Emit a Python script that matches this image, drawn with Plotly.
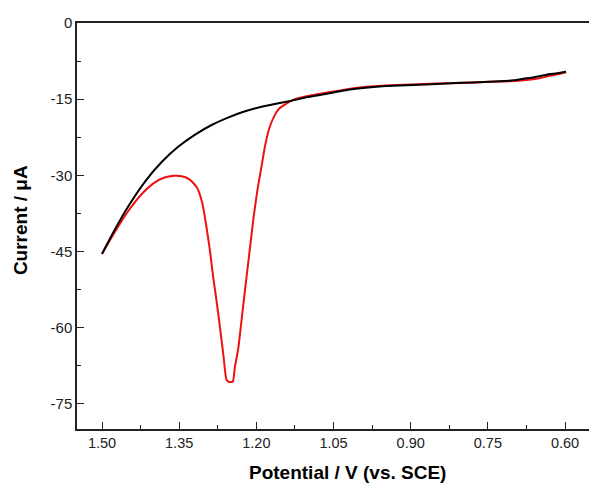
import plotly.graph_objects as go

# Black curve (background)
black_x = [1.500, 1.475, 1.450, 1.416, 1.384, 1.352, 1.319, 1.287, 1.254, 1.222,
           1.190, 1.157, 1.131, 1.100, 1.050, 1.018, 0.960, 0.921, 0.870, 0.830,
           0.780, 0.730, 0.700, 0.681, 0.660, 0.636, 0.615, 0.598]
black_y = [-45.5, -40.7, -36.3, -31.2, -27.4, -24.4, -22.0, -20.1, -18.6, -17.4,
           -16.5, -15.8, -15.3, -14.6, -13.7, -13.1, -12.5, -12.3, -12.1, -11.9,
           -11.7, -11.5, -11.3, -11.0, -10.7, -10.2, -9.9, -9.6]

# Red curve (with oxidation peak)
red_x = [1.500, 1.475, 1.450, 1.420, 1.400, 1.380, 1.360, 1.345, 1.330, 1.315,
         1.305, 1.298, 1.290, 1.284, 1.277, 1.271, 1.264, 1.258, 1.254, 1.246,
         1.242, 1.235, 1.227, 1.219, 1.212, 1.205, 1.198, 1.190, 1.183, 1.175,
         1.165, 1.155, 1.140, 1.130, 1.100, 1.050, 1.000, 0.950, 0.900, 0.850,
         0.800, 0.750, 0.710, 0.690, 0.670, 0.650, 0.630, 0.610, 0.598]
red_y = [-45.5, -41.2, -37.2, -33.4, -31.6, -30.5, -30.1, -30.2, -30.8, -32.5,
         -35.5, -39.5, -45.0, -50.0, -55.0, -59.8, -65.5, -70.3, -70.7, -70.7,
         -68.0, -64.0, -57.0, -50.0, -44.0, -38.0, -33.0, -28.3, -24.2, -20.8,
         -18.3, -16.8, -15.8, -15.2, -14.4, -13.5, -12.7, -12.3, -12.1, -11.9,
         -11.8, -11.6, -11.5, -11.4, -11.2, -10.9, -10.4, -10.0, -9.7]

x_tickvals = [1.50, 1.35, 1.20, 1.05, 0.90, 0.75, 0.60]
x_ticktext = ["1.50", "1.35", "1.20", "1.05", "0.90", "0.75", "0.60"]
y_tickvals = [0, -15, -30, -45, -60, -75]
y_ticktext = ["0", "-15", "-30", "-45", "-60", "-75"]

fig = go.Figure()
fig.add_trace(go.Scatter(x=red_x, y=red_y, mode="lines",
                         line=dict(color="#f01010", width=2, shape="spline", smoothing=0.6),
                         showlegend=False))
fig.add_trace(go.Scatter(x=black_x, y=black_y, mode="lines",
                         line=dict(color="#000000", width=2, shape="spline", smoothing=0.6),
                         showlegend=False))

fig.update_layout(
    width=589, height=484,
    margin=dict(l=77, r=0, t=23, b=55),
    plot_bgcolor="white", paper_bgcolor="white",
    font=dict(family="Liberation Sans, Arial, sans-serif", size=14, color="#222222"),
    xaxis=dict(range=[1.5486, 0.5534], tickvals=x_tickvals, ticktext=x_ticktext,
               ticks="inside", ticklen=7, tickwidth=1.2, tickcolor="#222222",
               showline=True, linecolor="#222222", linewidth=1.5, mirror=True,
               showgrid=False, zeroline=False,
               tickfont=dict(size=14.5, color="#222222"),
               minor=dict(dtick=0.075, tick0=0.6, ticks="inside", ticklen=4, tickcolor="#222222", showgrid=False)),
    yaxis=dict(range=[-80, 0], tickvals=y_tickvals, ticktext=y_ticktext,
               ticks="inside", ticklen=7, tickwidth=1.2, tickcolor="#222222",
               showline=True, linecolor="#222222", linewidth=1.5, mirror=False,
               showgrid=False, zeroline=False,
               tickfont=dict(size=15, color="#222222"),
               minor=dict(dtick=7.5, tick0=0, ticks="inside", ticklen=4, tickcolor="#222222", showgrid=False)),
    annotations=[
        dict(text="<b>Potential / V (vs. SCE)</b>", xref="paper", yref="paper",
             x=0.529, y=-0.108, xanchor="center", yanchor="middle", showarrow=False,
             font=dict(size=19, color="#000000")),
        dict(text="<b>Current / μA</b>", xref="paper", yref="paper",
             x=-0.109, y=0.515, xanchor="center", yanchor="middle", showarrow=False,
             textangle=-90, font=dict(size=19, color="#000000")),
    ],
)

fig.write_html("out.html", config={"displayModeBar": False},
               post_script="document.body.style.margin='0';")
